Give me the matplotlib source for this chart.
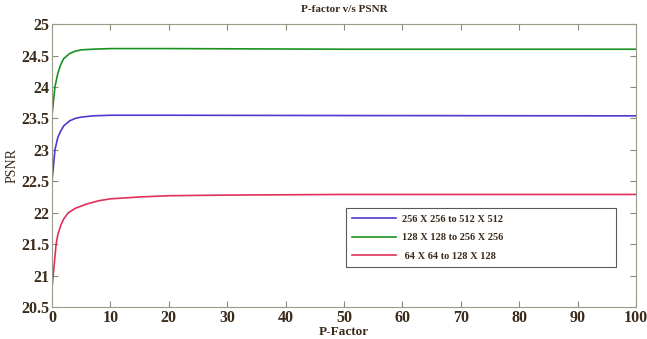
import numpy as np
import matplotlib.pyplot as plt

plt.rcParams['font.family'] = ['Liberation Serif', 'DejaVu Serif']

# values
x_256 = [0, 0.5, 1, 1.5, 2, 3, 4, 5, 7, 10, 20, 50, 100]
y_256 = [22.5, 23.0, 23.2, 23.3, 23.38, 23.46, 23.5, 23.52, 23.54, 23.55, 23.55, 23.545, 23.54]

x_128 = [0, 0.5, 1, 1.5, 2, 3, 4, 5, 7, 10, 20, 50, 100]
y_128 = [23.55, 24.0, 24.22, 24.36, 24.45, 24.53, 24.57, 24.59, 24.6, 24.61, 24.61, 24.6, 24.6]

x_64 = [0, 0.2, 0.7, 1, 1.5, 2, 2.8, 4, 6, 8, 10, 15, 20, 30, 50, 100]
y_64 = [20.8, 21.0, 21.5, 21.65, 21.8, 21.9, 22.0, 22.07, 22.14, 22.19, 22.22, 22.25, 22.27, 22.28, 22.29, 22.29]

labels = ['256 X 256 to 512 X 512', '128 X 128 to 256 X 256', ' 64 X 64 to 128 X 128']
colors = ['#4a3ad0', '#1a9020', '#e0305a']

fig = plt.figure(figsize=(6.47, 3.39), dpi=100)
ax = fig.add_axes([0.0804, 0.0944, 0.9026, 0.8346])

ax.plot(x_256, y_256, color=colors[0], linewidth=1.2, label=labels[0])
ax.plot(x_128, y_128, color=colors[1], linewidth=1.2, label=labels[1])
ax.plot(x_64, y_64, color=colors[2], linewidth=1.2, label=labels[2])

ax.set_xlim(0, 100)
ax.set_ylim(20.5, 25)
ax.set_xticks(np.arange(0, 101, 10))
ax.set_yticks(np.arange(20.5, 25.01, 0.5))
ax.set_yticklabels(['20.5', '21', '21.5', '22', '22.5', '23', '23.5', '24', '24.5', '25'])

tick_col = '#3a2a1a'
for s in ax.spines.values():
    s.set_color('#9a9a88')
ax.tick_params(direction='in', length=4, color='#8a8a78', top=True, right=True,
               labelsize=11.5, labelcolor=tick_col, pad=2)
for t in ax.get_xticklabels() + ax.get_yticklabels():
    t.set_fontweight('bold')

ax.set_title('P-factor v/s PSNR', fontsize=8, fontweight='bold', color=tick_col, pad=9)
ax.set_xlabel('P-Factor', fontsize=9.5, fontweight='bold', color=tick_col, labelpad=0)
ax.set_ylabel('PSNR', fontsize=10, color=tick_col, labelpad=2)

leg = ax.legend(loc='lower left', bbox_to_anchor=(0.503, 0.141, 0.462, 0.205), mode='expand',
                prop={'weight': 'bold', 'size': 7.5}, frameon=True, fancybox=False,
                handlelength=4.2, handletextpad=0.6, labelspacing=0.9, borderpad=0.6,
                borderaxespad=0, edgecolor='#303030')
leg.get_frame().set_linewidth(0.8)
for t in leg.get_texts():
    t.set_color(tick_col)

fig.savefig('out.png', dpi=100)
